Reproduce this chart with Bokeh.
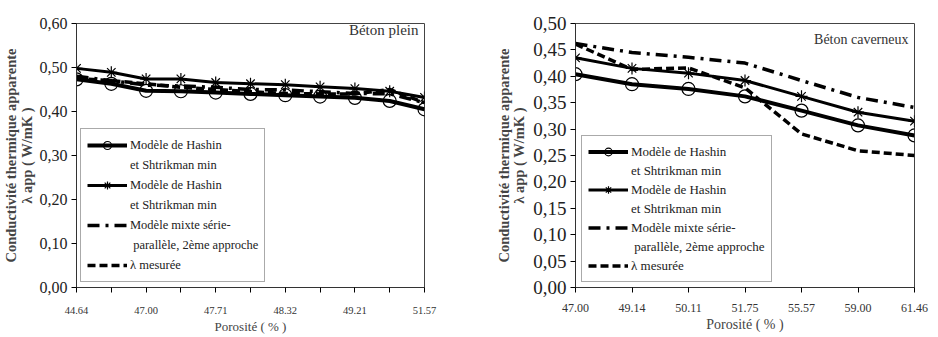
from bokeh.plotting import figure
from bokeh.layouts import row
from bokeh.models import Legend, LegendItem, FixedTicker, Label, CustomJSTickFormatter
from bokeh.embed import file_html
from bokeh.resources import INLINE

# ---------------- data ----------------
left_ticks = ["44.64", "", "47.00", "", "47.71", "", "48.32", "", "49.21", "", "51.57"]
left_hs_min = [0.473, 0.463, 0.447, 0.446, 0.443, 0.440, 0.437, 0.434, 0.431, 0.424, 0.405]
left_hs_max = [0.498, 0.489, 0.474, 0.474, 0.466, 0.463, 0.461, 0.456, 0.452, 0.446, 0.432]
left_mixte = [0.480, 0.470, 0.460, 0.458, 0.455, 0.450, 0.449, 0.445, 0.441, 0.440, 0.420]
left_mes = [0.475, 0.470, 0.463, 0.455, 0.450, 0.445, 0.441, 0.440, 0.440, 0.450, 0.420]

right_ticks = ["47.00", "49.14", "50.11", "51.75", "55.57", "59.00", "61.46"]
right_hs_min = [0.404, 0.385, 0.376, 0.362, 0.335, 0.307, 0.288]
right_hs_max = [0.435, 0.415, 0.406, 0.392, 0.362, 0.332, 0.315]
right_mixte = [0.462, 0.445, 0.436, 0.425, 0.392, 0.360, 0.341]
right_mes = [0.461, 0.413, 0.416, 0.378, 0.291, 0.259, 0.250]

# legend texts, one list of lines per series
names = [["Modèle de Hashin", "et Shtrikman min"],
         ["Modèle de Hashin", "et Shtrikman min"],
         ["Modèle mixte série-", " parallèle, 2ème approche"],
         ["λ mesurée"]]

SERIF = "'Liberation Serif', 'Times New Roman', serif"


def make_panel(ticks, s1, s2, s3, s4, ymax, ystep, title, w, h, bl, br, bt, bb,
               leg_x, leg_y, ytick_fs, xtick_fs, xlab_fs, ylab_fs, ylab_standoff,
               leg_fs, xstandoff, row_h, title_fs):
    n = len(ticks)
    xs = list(range(n))
    p = figure(width=w, height=h, output_backend="svg", toolbar_location=None,
               x_range=(0, n - 1), y_range=(0, ymax),
               min_border_left=bl, min_border_right=br,
               min_border_top=bt, min_border_bottom=bb)
    p.xgrid.visible = False
    p.ygrid.visible = False
    p.outline_line_color = "#444444"
    p.outline_line_width = 1
    p.background_fill_color = "white"

    r1 = p.line(xs, s1, line_color="black", line_width=4)
    m1 = p.scatter(xs, s1, marker="circle", size=13, fill_color=None,
                   line_color="black", line_width=1.2)
    r2 = p.line(xs, s2, line_color="black", line_width=3)
    m2 = p.scatter(xs, s2, marker="asterisk", size=12, line_color="black",
                   line_width=1.2)
    r3 = p.line(xs, s3, line_color="black", line_width=3.5, line_dash="12 6 3 6")
    r4 = p.line(xs, s4, line_color="black", line_width=3.5, line_dash="8 4")

    rends = [[r1, m1], [r2, m2], [r3], [r4]]
    items = []
    for lines, rr in zip(names, rends):
        items.append(LegendItem(label=lines[0], renderers=rr))
        for extra in lines[1:]:
            items.append(LegendItem(label=extra, renderers=[]))
    leg = Legend(items=items, location=(leg_x, leg_y))
    leg.label_text_font = SERIF
    leg.label_text_font_size = leg_fs
    leg.label_text_color = "#222222"
    leg.glyph_width = 40
    leg.glyph_height = row_h
    leg.label_standoff = 3
    leg.spacing = 0
    leg.padding = 6
    leg.margin = 0
    leg.border_line_color = "#555555"
    leg.label_height = row_h
    p.add_layout(leg, "center")

    # axes
    p.xaxis.ticker = FixedTicker(ticks=xs)
    p.xaxis.formatter = CustomJSTickFormatter(
        args=dict(labels=ticks), code="return labels[Math.round(tick)] || '';")
    p.xaxis.minor_tick_line_color = None
    p.xaxis.major_tick_out = 5
    p.xaxis.major_tick_in = 0
    p.xaxis.major_label_text_font = SERIF
    p.xaxis.major_label_text_font_size = xtick_fs
    p.xaxis.major_label_text_color = "#333333"
    p.xaxis.axis_label = "Porosité ( % )"
    p.xaxis.axis_label_text_font = SERIF
    p.xaxis.axis_label_text_font_style = "normal"
    p.xaxis.axis_label_text_font_size = xlab_fs
    p.xaxis.axis_label_standoff = 2
    p.xaxis.major_label_standoff = xstandoff
    p.xaxis.axis_line_color = "#333333"

    yt = [round(i * ystep, 2) for i in range(int(round(ymax / ystep)) + 1)]
    p.yaxis.ticker = FixedTicker(ticks=yt)
    p.yaxis.formatter = CustomJSTickFormatter(
        code="return tick.toFixed(2).replace('.', ',');")
    p.yaxis.minor_tick_line_color = None
    p.yaxis.major_tick_out = 5
    p.yaxis.major_tick_in = 0
    p.yaxis.major_label_text_font = SERIF
    p.yaxis.major_label_text_font_size = ytick_fs
    p.yaxis.major_label_text_color = "#222222"
    p.yaxis.major_label_standoff = 4
    p.yaxis.axis_label = "Conductivité thermique apparente\nλ app ( W/mK )"
    p.yaxis.axis_label_text_font = SERIF
    p.yaxis.axis_label_text_font_style = "bold"
    p.yaxis.axis_label_text_font_size = ylab_fs
    p.yaxis.axis_label_text_line_height = 0.95
    p.yaxis.axis_label_standoff = ylab_standoff
    p.yaxis.axis_line_color = "#333333"

    lab = Label(x=w - bl - br - 6, y=h - bt - bb - 8, x_units="screen", y_units="screen",
                text=title, text_font=SERIF, text_font_size=title_fs,
                text_align="right", text_baseline="top", text_color="#333333")
    p.add_layout(lab)
    return p


p1 = make_panel(left_ticks, left_hs_min, left_hs_max, left_mixte, left_mes,
                0.60, 0.10, "Béton plein", 470, 337, 76, 46, 17, 46, 4, 5,
                "16px", "10.5px", "13px", "14.5px", 2, "12.5px", 14, 20, "15px")
p2 = make_panel(right_ticks, right_hs_min, right_hs_max, right_mixte, right_mes,
                0.50, 0.05, "Béton caverneux", 468, 337, 105, 24, 23, 50, 6, 5,
                "19px", "12px", "14px", "14.5px", 3, "13px", 11, 19, "14px")

layout = row(p1, p2)
open("out.html", "w").write(file_html(layout, INLINE))
